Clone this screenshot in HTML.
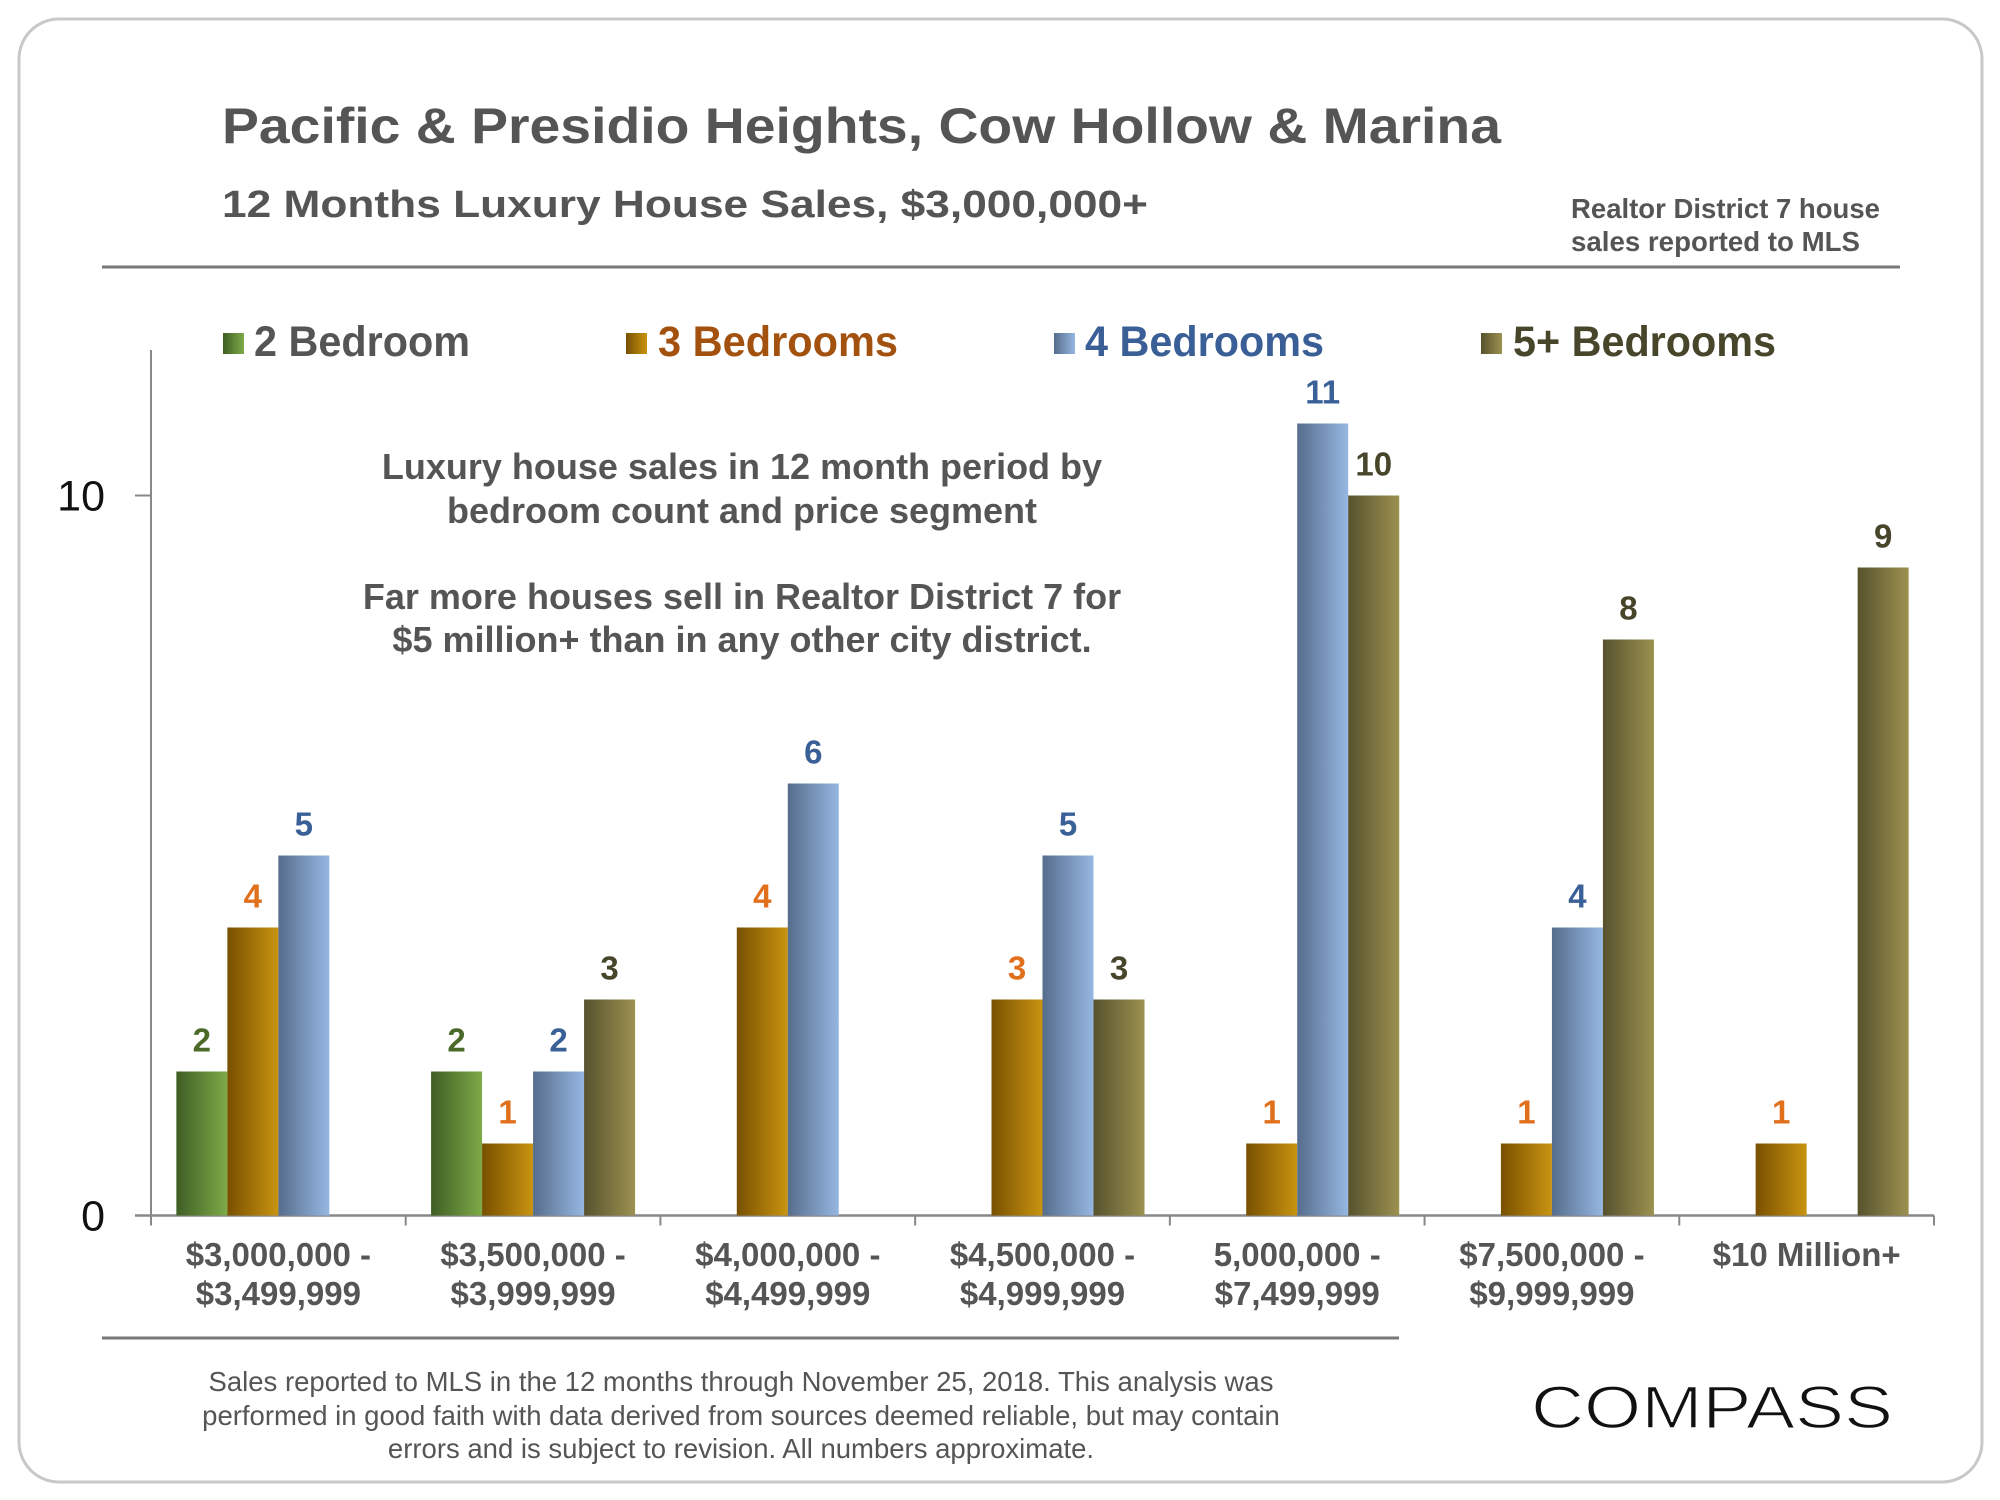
<!DOCTYPE html>
<html><head><meta charset="utf-8"><style>
html,body{margin:0;padding:0;background:#fff;}
svg{display:block;}
text{font-family:"Liberation Sans",sans-serif;}
.n{font-family:"Liberation Sans Narrow","Liberation Sans",sans-serif;font-weight:bold;}
</style></head><body>
<svg id="chart" width="2000" height="1500" viewBox="0 0 2000 1500">
<defs>
<linearGradient id="g2" x1="0" x2="1"><stop offset="0" stop-color="#3f5e24"/><stop offset="1" stop-color="#7eaa48"/></linearGradient>
<linearGradient id="g3" x1="0" x2="1"><stop offset="0" stop-color="#785000"/><stop offset="1" stop-color="#c99411"/></linearGradient>
<linearGradient id="g4" x1="0" x2="1"><stop offset="0" stop-color="#566d8c"/><stop offset="1" stop-color="#96b7e2"/></linearGradient>
<linearGradient id="g5" x1="0" x2="1"><stop offset="0" stop-color="#57522e"/><stop offset="1" stop-color="#9c9150"/></linearGradient>
</defs>
<rect x="19" y="19" width="1963" height="1463" rx="40" fill="#fff" stroke="#c8c8c8" stroke-width="3"/>
<text x="222" y="143" font-size="50" font-weight="bold" fill="#555" textLength="1279" lengthAdjust="spacingAndGlyphs">Pacific &amp; Presidio Heights, Cow Hollow &amp; Marina</text>
<text x="222" y="217" font-size="38" font-weight="bold" fill="#555" textLength="926" lengthAdjust="spacingAndGlyphs">12 Months Luxury House Sales, $3,000,000+</text>
<text class="n" x="1571" y="218" font-size="28" fill="#555" textLength="309" lengthAdjust="spacingAndGlyphs">Realtor District 7 house</text>
<text class="n" x="1571" y="251" font-size="28" fill="#555" textLength="289" lengthAdjust="spacingAndGlyphs">sales reported to MLS</text>
<line x1="102" y1="267" x2="1900" y2="267" stroke="#777" stroke-width="3"/>
<g>
<g><rect x="223" y="333" width="21" height="21" fill="url(#g2)"/><text class="n" x="254" y="356" font-size="43" fill="#555" textLength="216" lengthAdjust="spacingAndGlyphs">2 Bedroom</text></g>
<g><rect x="626" y="333" width="21" height="21" fill="url(#g3)"/><text class="n" x="658" y="356" font-size="43" fill="#a3510e" textLength="240" lengthAdjust="spacingAndGlyphs">3 Bedrooms</text></g>
<g><rect x="1054" y="333" width="21" height="21" fill="url(#g4)"/><text class="n" x="1085" y="356" font-size="43" fill="#3a5f96" textLength="239" lengthAdjust="spacingAndGlyphs">4 Bedrooms</text></g>
<g><rect x="1481" y="333" width="21" height="21" fill="url(#g5)"/><text class="n" x="1513" y="356" font-size="43" fill="#47452a" textLength="263" lengthAdjust="spacingAndGlyphs">5+ Bedrooms</text></g>
</g>
<g font-size="36" font-weight="bold" fill="#555" text-anchor="middle">
<text x="742" y="479">Luxury house sales in 12 month period by</text>
<text x="742" y="523">bedroom count and price segment</text>
<text x="742" y="609">Far more houses sell in Realtor District 7 for</text>
<text x="742" y="652">$5 million+ than in any other city district.</text>
</g>
<g id="axes"></g>
<g id="bars"></g>
<line x1="102" y1="1338" x2="1399" y2="1338" stroke="#777" stroke-width="3"/>
<g font-size="27.5" fill="#555" text-anchor="middle">
<text x="741" y="1391">Sales reported to MLS in the 12 months through November 25, 2018. This analysis was</text>
<text x="741" y="1425">performed in good faith with data derived from sources deemed reliable, but may contain</text>
<text x="741" y="1458">errors and is subject to revision. All numbers approximate.</text>
</g>
<text x="1531" y="1428" font-size="60" fill="#111" stroke="#fff" stroke-width="1.5" textLength="362" lengthAdjust="spacingAndGlyphs">COMPASS</text>
</svg>
<script>
const categories1 = ["$3,000,000 -","$3,500,000 -","$4,000,000 -","$4,500,000 -","5,000,000 -","$7,500,000 -","$10 Million+"];
const categories2 = ["$3,499,999","$3,999,999","$4,499,999","$4,999,999","$7,499,999","$9,999,999",""];
const bed2 = [2,2,0,0,0,0,0];
const bed3 = [4,1,4,3,1,1,1];
const bed4 = [5,2,6,5,11,4,0];
const bed5 = [0,3,0,3,10,8,9];
const yTicks = [0,10];

const NS="http://www.w3.org/2000/svg";
const X0=151, X1=1934, Y0=1215.5, PER=72;
const n=categories1.length, gw=(X1-X0)/n, bw=51;
const y=v=>Y0-v*PER;
const xc=i=>X0+gw*(i+0.5);
function mk(tag,attrs,parent){const e=document.createElementNS(NS,tag);for(const k in attrs)e.setAttribute(k,attrs[k]);parent.appendChild(e);return e;}
const axes=document.getElementById('axes'), barsG=document.getElementById('bars');
let e=mk('line',{x1:X0,y1:350,x2:X0,y2:Y0,stroke:'#888','stroke-width':2},axes);


e=mk('line',{x1:X0-16,y1:Y0,x2:X1,y2:Y0,stroke:'#888','stroke-width':2.5},axes);


yTicks.forEach(t=>{
  let l=mk('line',{x1:X0-16,y1:y(t),x2:X0,y2:y(t),stroke:'#888','stroke-width':2},axes);
  
  
  let tx=mk('text',{x:105,y:y(t)+15,'font-size':43,fill:'#111','text-anchor':'end'},axes);
  tx.textContent=t;
  
  
});
for(let i=0;i<=n;i++){
  let l=mk('line',{x1:X0+gw*i,y1:Y0,x2:X0+gw*i,y2:Y0+10,stroke:'#888','stroke-width':2},axes);
  
  
}
categories1.forEach((c,i)=>{
  let t=mk('text',{class:'n',x:xc(i),y:1266,'font-size':33,fill:'#555','text-anchor':'middle'},axes);
  t.textContent=c;
  
  
  if(categories2[i]){
    let t2=mk('text',{class:'n',x:xc(i),y:1305,'font-size':33,fill:'#555','text-anchor':'middle'},axes);
    t2.textContent=categories2[i];
    
    
  }
});
const series=[[bed2,'url(#g2)','#4b6a2a','2br'],[bed3,'url(#g3)','#e0701c','3br'],[bed4,'url(#g4)','#3a6098','4br'],[bed5,'url(#g5)','#47452a','5br']];
series.forEach((s,k)=>{
  s[0].forEach((v,i)=>{
    if(!v)return;
    const x=xc(i)+(k-2)*bw;
    let r=mk('rect',{x:x,y:y(v),width:bw,height:v*PER,fill:s[1]},barsG);
    
    
    let t=mk('text',{class:'n',x:x+bw/2,y:y(v)-20,'font-size':33,fill:s[2],'text-anchor':'middle'},barsG);
    t.textContent=v;
    
    
  });
});
</script>
</body></html>
